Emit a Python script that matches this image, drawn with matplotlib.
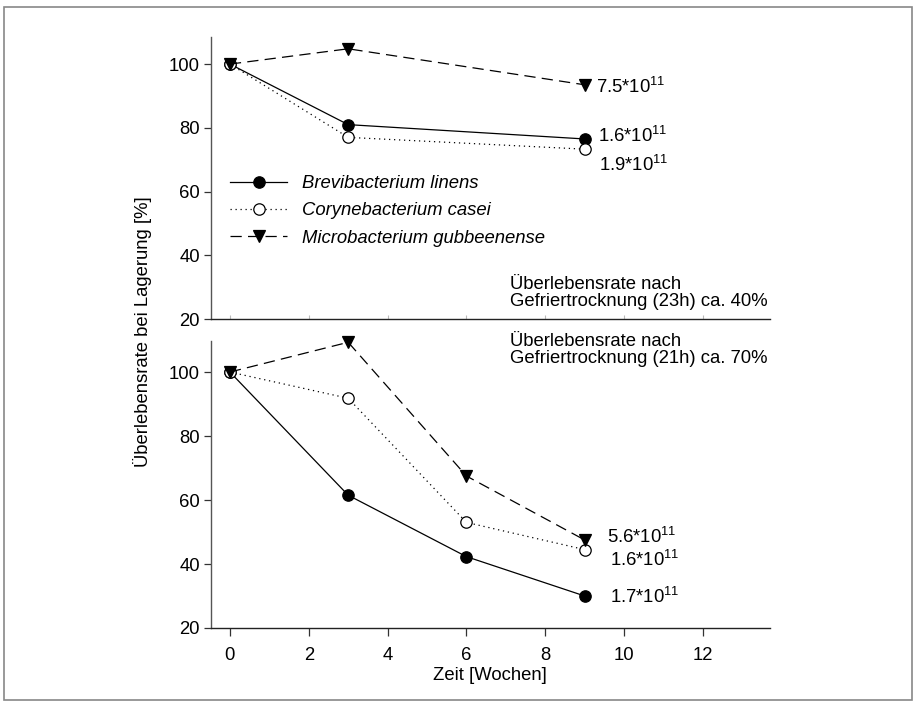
import matplotlib
matplotlib.use("Agg")
import matplotlib.pyplot as plt
from matplotlib.patches import Rectangle

plt.rcParams['font.family'] = ['Liberation Sans', 'DejaVu Sans']
plt.rcParams['mathtext.fontset'] = 'custom'
plt.rcParams['mathtext.rm'] = 'Liberation Sans'
plt.rcParams['mathtext.it'] = 'Liberation Sans:italic'
plt.rcParams['mathtext.default'] = 'rm'

# ---------------- data ----------------
weeks_top = [0, 3, 9]
brevi_top = [100, 81, 76.5]
coryne_top = [100, 77, 73.3]
micro_top = [100, 104.8, 93.5]

weeks_bot = [0, 3, 6, 9]
brevi_bot = [100, 61.5, 42.3, 30]
coryne_bot = [100, 91.8, 53, 44.5]
micro_bot = [100, 109.3, 67.5, 47.5]

series_names = ["Brevibacterium linens", "Corynebacterium casei",
                "Microbacterium gubbeenense"]
labels_top = ["1.6*10$^{11}$", "1.9*10$^{11}$", "7.5*10$^{11}$"]
labels_bot = ["1.7*10$^{11}$", "1.6*10$^{11}$", "5.6*10$^{11}$"]
note_top = "Überlebensrate nach\nGefriertrocknung (23h) ca. 40%"
note_bot = "Überlebensrate nach\nGefriertrocknung (21h) ca. 70%"
xticks = [0, 2, 4, 6, 8, 10, 12]
yticks = [20, 40, 60, 80, 100]
xlabel = "Zeit [Wochen]"
ylabel = "Überlebensrate bei Lagerung [%]"

W, H = 916, 706
fig = plt.figure(figsize=(W / 100, H / 100), dpi=100)

def ax_at(l, t, r, b):
    return fig.add_axes([l / W, 1 - b / H, (r - l) / W, (b - t) / H])

ax1 = ax_at(211, 37, 770, 319)
ax2 = ax_at(211, 341, 770, 628)

FS = 13.3
lw = 0.9
ms = 8.2
styles = [
    dict(color='black', linestyle='-', marker='o', markerfacecolor='black',
         markeredgecolor='black'),
    dict(color='black', linestyle=(0, (1, 3)), marker='o', markerfacecolor='white',
         markeredgecolor='black'),
    dict(color='black', linestyle=(0, (9, 5)), marker='v', markerfacecolor='black',
         markeredgecolor='black'),
]

for ax, xs, ys_list, ylim in [
    (ax1, weeks_top, [brevi_top, coryne_top, micro_top], (20, 108.5)),
    (ax2, weeks_bot, [brevi_bot, coryne_bot, micro_bot], (20, 109.7)),
]:
    for ys, st, name in zip(ys_list, styles, series_names):
        ax.plot(xs, ys, lw=lw, ms=ms, mew=0.9, label=name, clip_on=False,
                **st)
    ax.set_xlim(-0.48, 13.7)
    ax.set_ylim(*ylim)
    ax.set_yticks(yticks)
    ax.set_yticklabels([str(v) for v in yticks], fontsize=FS)
    ax.spines['top'].set_visible(False)
    ax.spines['right'].set_visible(False)
    ax.spines['left'].set_color('#555555')
    ax.spines['bottom'].set_color('#222222')
    ax.spines['left'].set_linewidth(1.0)
    ax.spines['bottom'].set_linewidth(1.0)
    ax.tick_params(axis='y', direction='out', length=5, width=0.9,
                   color='#333333', pad=3)
    ax.set_xticks(xticks)

ax1.tick_params(axis='x', direction='in', length=3, width=0.8, color='#bbbbbb',
                labelbottom=False)
ax2.set_xticklabels([str(v) for v in xticks], fontsize=FS)
ax2.tick_params(axis='x', direction='out', length=6, width=0.9,
                color='#333333', pad=8)

def endlabel(ax, text, x, y, dx, dy):
    ax.annotate(text, (x, y), xytext=(dx * 0.72, dy * 0.72),
                textcoords='offset points', va='center', ha='left', fontsize=FS)

# end-point labels (top), offsets in pixels
endlabel(ax1, labels_top[2], weeks_top[-1], micro_top[-1], 11, -2)
endlabel(ax1, labels_top[0], weeks_top[-1], brevi_top[-1], 13, 3)
endlabel(ax1, labels_top[1], weeks_top[-1], coryne_top[-1], 14, -16)
# end-point labels (bottom)
endlabel(ax2, labels_bot[2], weeks_bot[-1], micro_bot[-1], 22, 3)
endlabel(ax2, labels_bot[1], weeks_bot[-1], coryne_bot[-1], 25, -10)
endlabel(ax2, labels_bot[0], weeks_bot[-1], brevi_bot[-1], 25, -1)

# notes
fig.text(768 / W, 1 - 293 / H, note_top, ha='right', va='center', fontsize=FS,
         multialignment='left', linespacing=1.0)
fig.text(768 / W, 1 - 350 / H, note_bot, ha='right', va='center', fontsize=FS,
         multialignment='left', linespacing=1.0)

# legend
leg = ax1.legend(loc='upper left', bbox_to_anchor=(230 / W, 1 - 175 / H),
                 bbox_transform=fig.transFigure, frameon=False,
                 handlelength=3.1, handletextpad=0.8, labelspacing=0.56,
                 borderpad=0, borderaxespad=0,
                 prop={'size': FS, 'style': 'italic'})

# axis labels
fig.text(490 / W, 1 - 676 / H, xlabel, ha='center', va='center', fontsize=FS)
fig.text(142 / W, 1 - 332 / H, ylabel, ha='center', va='center', fontsize=FS,
         rotation=90)

# outer frame
fig.patches.append(Rectangle((4 / W, 1 - 700 / H), 908 / W, 693 / H,
                             transform=fig.transFigure, fill=False,
                             edgecolor='#888888', linewidth=1.2))

fig.savefig("out.png", dpi=100)
